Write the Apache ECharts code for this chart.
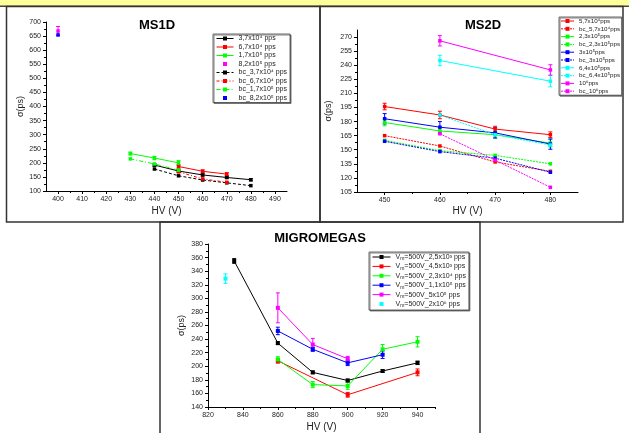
<!DOCTYPE html>
<html lang="en">
<head>
<meta charset="UTF-8">
<title>MS1D / MS2D / MIGROMEGAS</title>
<script src="https://cdn.jsdelivr.net/npm/echarts@6/dist/echarts.min.js"></script>
<style>
  html, body { margin: 0; padding: 0; background: #fff; }
  #main { width: 629px; height: 433px; }
</style>
</head>
<body>
<div id="main"></div>
<script>
// ---------- MS1D ----------
var ms1dHV = [400, 430, 440, 450, 460, 470, 480];
var ms1d_37e4     = [null, null, 192, 171, 157, 148, 140];
var ms1d_37e4_err = [null, null, 4, 4, 4, 4, 4];
var ms1d_67e4     = [null, null, null, 187, 170, 160, null];
var ms1d_67e4_err = [null, null, null, 6, 5, 5, null];
var ms1d_17e5     = [null, 233, 217, 200, null, null, null];
var ms1d_17e5_err = [null, 5, 6, 8, null, null, null];
var ms1d_82e5     = [668, null, null, null, null, null, null];
var ms1d_82e5_err = [16, null, null, null, null, null, null];
var ms1d_bc37e4   = [null, null, 178, 154, 139, 129, 119];
var ms1d_bc67e4   = [null, null, null, 168, 143, 131, null];
var ms1d_bc17e5   = [null, 214, 196, 174, null, null, null];
var ms1d_bc82e5   = [654, null, null, null, null, null, null];
var ms1dNames = ['3,7x10\u2074 pps', '6,7x10\u2074 pps', '1,7x10\u2075 pps', '8,2x10\u2075 pps',
                 'bc_3,7x10\u2074 pps', 'bc_6,7x10\u2074 pps', 'bc_1,7x10\u2075 pps', 'bc_8,2x10\u2075 pps'];
var ms1dXTicks = [400, 410, 420, 430, 440, 450, 460, 470, 480, 490];
var ms1dXMinor = [405, 415, 425, 435, 445, 455, 465, 475, 485];
var ms1dYTicks = [100, 150, 200, 250, 300, 350, 400, 450, 500, 550, 600, 650, 700];
var ms1dYMinor = [125, 175, 225, 275, 325, 375, 425, 475, 525, 575, 625, 675];

// ---------- MS2D ----------
var ms2dHV = [450, 460, 470, 480];
var ms2d_57e4     = [196, 187, 172, 166];
var ms2d_57e4_err = [3.5, 4, 3, 3];
var ms2d_bc57e4   = [165, 154, 137, 127];
var ms2d_23e5     = [179, 170, 166, 157];
var ms2d_23e5_err = [3.5, 3.5, 3.5, 4];
var ms2d_bc23e5   = [160, 149, 144, 135];
var ms2d_3e5      = [183, 174, 168, 156];
var ms2d_3e5_err  = [5.5, 6, 5.5, 5.5];
var ms2d_bc3e5    = [159, 148, 141, 126];
var ms2d_64e5     = [null, 245, null, 223];
var ms2d_64e5_err = [null, 5.5, null, 6];
var ms2d_bc64e5   = [null, 187, 166, 155];
var ms2d_1e6      = [null, 266, null, 235];
var ms2d_1e6_err  = [null, 5.5, null, 5.5];
var ms2d_bc1e6    = [null, 167, 139, 110];
var ms2dNames = ['5,7x10\u2074pps', 'bc_5,7x10\u2074pps', '2,3x10\u2075pps', 'bc_2,3x10\u2075pps',
                 '3x10\u2075pps', 'bc_3x10\u2075pps', '6,4x10\u2075pps', 'bc_6,4x10\u2075pps',
                 '10\u2076pps', 'bc_10\u2076pps'];
var ms2dXTicks = [450, 460, 470, 480];
var ms2dXMinor = [455, 465, 475];
var ms2dYTicks = [105, 120, 135, 150, 165, 180, 195, 210, 225, 240, 255, 270];
var ms2dYMinor = [112.5, 127.5, 142.5, 157.5, 172.5, 187.5, 202.5, 217.5, 232.5, 247.5, 262.5];

// ---------- MIGROMEGAS ----------
var mmHV = [830, 835, 860, 880, 900, 920, 940];
var mm_25e3     = [null, 355, 234, 191, 179, 193, 205];
var mm_25e3_err = [null, 3.5, 2, 2, 2, 2, 2.5];
var mm_45e3     = [null, null, 208, null, 158, null, 191];
var mm_45e3_err = [null, null, 3.5, null, 3.5, null, 5];
var mm_23e4     = [null, null, 210, 173, 171, 225, 236];
var mm_23e4_err = [null, null, 4, 4.5, 5, 7, 7.5];
var mm_11e5     = [null, null, 252, 225, 205, 217, null];
var mm_11e5_err = [null, null, 5.5, 3, 4, 5.5, null];
var mm_5e5      = [null, null, 286, 232, 211, null, null];
var mm_5e5_err  = [null, null, 22, 9, 3.5, null, null];
var mm_2e6      = [329, null, null, null, null, null, null];
var mm_2e6_err  = [7, null, null, null, null, null, null];
var mmNames = ['Vm=500V_2,5x10\u00b3 pps', 'Vm=500V_4,5x10\u00b3 pps', 'Vm=500V_2,3x10\u2074 pps',
               'Vm=500V_1,1x10\u2075 pps', 'Vm=500V_5x10\u2075 pps', 'Vm=500V_2x10\u2076 pps'];
var mmXTicks = [820, 840, 860, 880, 900, 920, 940];
var mmXMinor = [830, 850, 870, 890, 910, 930, 950];
var mmYTicks = [140, 160, 180, 200, 220, 240, 260, 280, 300, 320, 340, 360, 380];
var mmYMinor = [150, 170, 190, 210, 230, 250, 270, 290, 310, 330, 350, 370];

var FONT = 'Liberation Sans, Arial, sans-serif';

// main axis with labels + a companion axis that only draws the short minor ticks
function axisPair(dim, grid, min, max, major, minor, name, gap, nameSize) {
  var pos = dim === 'x' ? 'bottom' : 'left';
  return [{
    type: 'value', gridIndex: grid, min: min, max: max, position: pos,
    name: name, nameLocation: 'middle', nameGap: gap,
    nameTextStyle: { fontSize: nameSize, color: '#222', fontFamily: FONT },
    axisLine: { show: true, onZero: false, lineStyle: { color: '#000', width: 1 } },
    axisTick: { show: true, length: 3, customValues: major, lineStyle: { color: '#000' } },
    axisLabel: { customValues: major, fontSize: 7, color: '#222', margin: 5, fontFamily: FONT },
    splitLine: { show: false }
  }, {
    type: 'value', gridIndex: grid, min: min, max: max, position: pos,
    axisLine: { show: false },
    axisTick: { show: true, length: 2, customValues: minor, lineStyle: { color: '#000' } },
    axisLabel: { show: false },
    splitLine: { show: false }
  }];
}

function line(grid, name, hv, vals, color, dash, size) {
  var d = [];
  for (var i = 0; i < hv.length; i++) if (vals[i] != null) d.push([hv[i], vals[i]]);
  return {
    type: 'line', name: name, xAxisIndex: 2 * grid, yAxisIndex: 2 * grid, data: d,
    symbol: 'rect', symbolSize: size || 3.5, showAllSymbol: true, z: 3, animation: false,
    lineStyle: { color: color, width: dash === 'none' ? 0 : 1, type: dash === 'none' ? 'solid' : (dash || 'solid') },
    itemStyle: { color: color }, emphasis: { disabled: true }
  };
}

function errorBars(grid, hv, vals, errs, color) {
  var d = [];
  for (var i = 0; i < hv.length; i++) {
    if (vals[i] != null && errs[i]) d.push([hv[i], vals[i] - errs[i], vals[i] + errs[i]]);
  }
  return {
    type: 'custom', xAxisIndex: 2 * grid, yAxisIndex: 2 * grid, data: d, silent: true, z: 2,
    encode: { x: 0, y: [1, 2] }, animation: false,
    renderItem: function (params, api) {
      var hi = api.coord([api.value(0), api.value(2)]);
      var lo = api.coord([api.value(0), api.value(1)]);
      var w = 2, st = { stroke: color, lineWidth: 1 };
      return { type: 'group', children: [
        { type: 'line', shape: { x1: hi[0], y1: hi[1], x2: lo[0], y2: lo[1] }, style: st },
        { type: 'line', shape: { x1: hi[0] - w, y1: hi[1], x2: hi[0] + w, y2: hi[1] }, style: st },
        { type: 'line', shape: { x1: lo[0] - w, y1: lo[1], x2: lo[0] + w, y2: lo[1] }, style: st }
      ] };
    }
  };
}

function legend(names, left, top, opts) {
  return Object.assign({
    orient: 'vertical', left: left, top: top, data: names, selectedMode: false,
    itemWidth: 17, itemHeight: 5, itemGap: 1.5, padding: [1, 3, 1, 3],
    borderColor: '#444', borderWidth: 0.8, backgroundColor: '#fff',
    shadowColor: '#666', shadowOffsetX: 1, shadowOffsetY: 1, shadowBlur: 0,
    lineStyle: { width: 'inherit' },
    textStyle: { fontSize: 7, color: '#222', fontFamily: FONT }
  }, opts || {});
}

var series = [
  // MS1D
  errorBars(0, ms1dHV, ms1d_37e4, ms1d_37e4_err, '#000'),
  errorBars(0, ms1dHV, ms1d_67e4, ms1d_67e4_err, '#ff0000'),
  errorBars(0, ms1dHV, ms1d_17e5, ms1d_17e5_err, '#00ff00'),
  errorBars(0, ms1dHV, ms1d_82e5, ms1d_82e5_err, '#ff00ff'),
  line(0, ms1dNames[0], ms1dHV, ms1d_37e4, '#000'),
  line(0, ms1dNames[1], ms1dHV, ms1d_67e4, '#ff0000'),
  line(0, ms1dNames[2], ms1dHV, ms1d_17e5, '#00ff00'),
  line(0, ms1dNames[3], ms1dHV, ms1d_82e5, '#ff00ff', 'none'),
  line(0, ms1dNames[4], ms1dHV, ms1d_bc37e4, '#000', [3, 2]),
  line(0, ms1dNames[5], ms1dHV, ms1d_bc67e4, '#ff0000', [3, 2, 1, 2]),
  line(0, ms1dNames[6], ms1dHV, ms1d_bc17e5, '#00ff00', [4, 2, 1, 2]),
  line(0, ms1dNames[7], ms1dHV, ms1d_bc82e5, '#0000ff', 'none'),
  // MS2D
  errorBars(1, ms2dHV, ms2d_57e4, ms2d_57e4_err, '#ff0000'),
  errorBars(1, ms2dHV, ms2d_23e5, ms2d_23e5_err, '#00ff00'),
  errorBars(1, ms2dHV, ms2d_3e5, ms2d_3e5_err, '#0000ff'),
  errorBars(1, ms2dHV, ms2d_64e5, ms2d_64e5_err, '#00ffff'),
  errorBars(1, ms2dHV, ms2d_1e6, ms2d_1e6_err, '#ff00ff'),
  line(1, ms2dNames[0], ms2dHV, ms2d_57e4, '#ff0000'),
  line(1, ms2dNames[1], ms2dHV, ms2d_bc57e4, '#ff0000', [2, 1]),
  line(1, ms2dNames[2], ms2dHV, ms2d_23e5, '#00ff00'),
  line(1, ms2dNames[3], ms2dHV, ms2d_bc23e5, '#00ff00', [2, 1]),
  line(1, ms2dNames[4], ms2dHV, ms2d_3e5, '#0000ff'),
  line(1, ms2dNames[5], ms2dHV, ms2d_bc3e5, '#0000ff', [2, 1]),
  line(1, ms2dNames[6], ms2dHV, ms2d_64e5, '#00ffff'),
  line(1, ms2dNames[7], ms2dHV, ms2d_bc64e5, '#00ffff', [2, 1]),
  line(1, ms2dNames[8], ms2dHV, ms2d_1e6, '#ff00ff'),
  line(1, ms2dNames[9], ms2dHV, ms2d_bc1e6, '#ff00ff', [2, 1]),
  // MIGROMEGAS
  errorBars(2, mmHV, mm_25e3, mm_25e3_err, '#000'),
  errorBars(2, mmHV, mm_45e3, mm_45e3_err, '#ff0000'),
  errorBars(2, mmHV, mm_23e4, mm_23e4_err, '#00ff00'),
  errorBars(2, mmHV, mm_11e5, mm_11e5_err, '#0000ff'),
  errorBars(2, mmHV, mm_5e5, mm_5e5_err, '#ff00ff'),
  errorBars(2, mmHV, mm_2e6, mm_2e6_err, '#00ffff'),
  line(2, mmNames[0], mmHV, mm_25e3, '#000', null, 4),
  line(2, mmNames[1], mmHV, mm_45e3, '#ff0000', null, 4),
  line(2, mmNames[2], mmHV, mm_23e4, '#00ff00', null, 4),
  line(2, mmNames[3], mmHV, mm_11e5, '#0000ff', null, 4),
  line(2, mmNames[4], mmHV, mm_5e5, '#ff00ff', null, 4),
  line(2, mmNames[5], mmHV, mm_2e6, '#00ffff', 'none', 4)
];

var sigma = '\u03c3(ps)';
var option = {
  animation: false,
  grid: [
    { left: 46, top: 22, width: 241, height: 169 },
    { left: 357, top: 30, width: 221, height: 162 },
    { left: 208, top: 244, width: 227, height: 164 }
  ],
  xAxis: [].concat(
    axisPair('x', 0, 395, 495, ms1dXTicks, ms1dXMinor, 'HV (V)', 15, 10),
    axisPair('x', 1, 445, 485, ms2dXTicks, ms2dXMinor, 'HV (V)', 14, 10),
    axisPair('x', 2, 820, 950, mmXTicks, mmXMinor, 'HV (V)', 15, 10)
  ),
  yAxis: [].concat(
    axisPair('y', 0, 100, 700, ms1dYTicks, ms1dYMinor, sigma, 21, 9),
    axisPair('y', 1, 105, 277.5, ms2dYTicks, ms2dYMinor, sigma, 24, 9),
    axisPair('y', 2, 140, 380, mmYTicks, mmYMinor, sigma, 22, 9)
  ),
  legend: [
    legend(ms1dNames, 213, 34),
    legend(ms2dNames, 559, 17, { itemWidth: 13, itemGap: 1.8, padding: [1, 1.5, 1, 1.5],
      textStyle: { fontSize: 6.2, color: '#222', fontFamily: FONT } }),
    legend(mmNames, 369, 252, { itemWidth: 18, itemGap: 1.4, padding: [1.5, 3, 1.5, 3],
      formatter: function (n) { return '{a|V}{b|m}{a|' + n.slice(2) + '}'; },
      textStyle: { fontSize: 7, color: '#222', fontFamily: FONT, rich: {
        a: { fontSize: 7, lineHeight: 9, color: '#222', fontFamily: FONT },
        b: { fontSize: 5, lineHeight: 5, verticalAlign: 'bottom', color: '#222', fontFamily: FONT }
      } } })
  ],
  graphic: [
    // header band
    { type: 'rect', silent: true, shape: { x: 0, y: 0, width: 629, height: 6 }, style: { fill: '#ffff99' } },
    { type: 'line', silent: true, shape: { x1: 0, y1: 6.2, x2: 629, y2: 6.2 }, style: { stroke: '#444', lineWidth: 1.5 } },
    // panel frames
    { type: 'rect', silent: true, shape: { x: 6.5, y: 6.5, width: 313.5, height: 215.5 }, style: { fill: 'none', stroke: '#333', lineWidth: 1.5 } },
    { type: 'rect', silent: true, shape: { x: 320, y: 6.5, width: 303, height: 215.5 }, style: { fill: 'none', stroke: '#333', lineWidth: 1.5 } },
    { type: 'rect', silent: true, shape: { x: 160, y: 222, width: 320, height: 215 }, style: { fill: 'none', stroke: '#333', lineWidth: 1.5 } },
    // panel titles
    { type: 'text', silent: true, x: 157, y: 25, style: { text: 'MS1D', font: 'bold 13px ' + FONT, fill: '#000', align: 'center', verticalAlign: 'middle', textAlign: 'center', textVerticalAlign: 'middle' } },
    { type: 'text', silent: true, x: 483, y: 25, style: { text: 'MS2D', font: 'bold 13px ' + FONT, fill: '#000', align: 'center', verticalAlign: 'middle', textAlign: 'center', textVerticalAlign: 'middle' } },
    { type: 'text', silent: true, x: 320, y: 238, style: { text: 'MIGROMEGAS', font: 'bold 13px ' + FONT, fill: '#000', align: 'center', verticalAlign: 'middle', textAlign: 'center', textVerticalAlign: 'middle' } }
  ],
  series: series
};

var myChart = echarts.init(document.getElementById('main'), null, { renderer: 'canvas' });
myChart.setOption(option);
</script>
</body>
</html>
